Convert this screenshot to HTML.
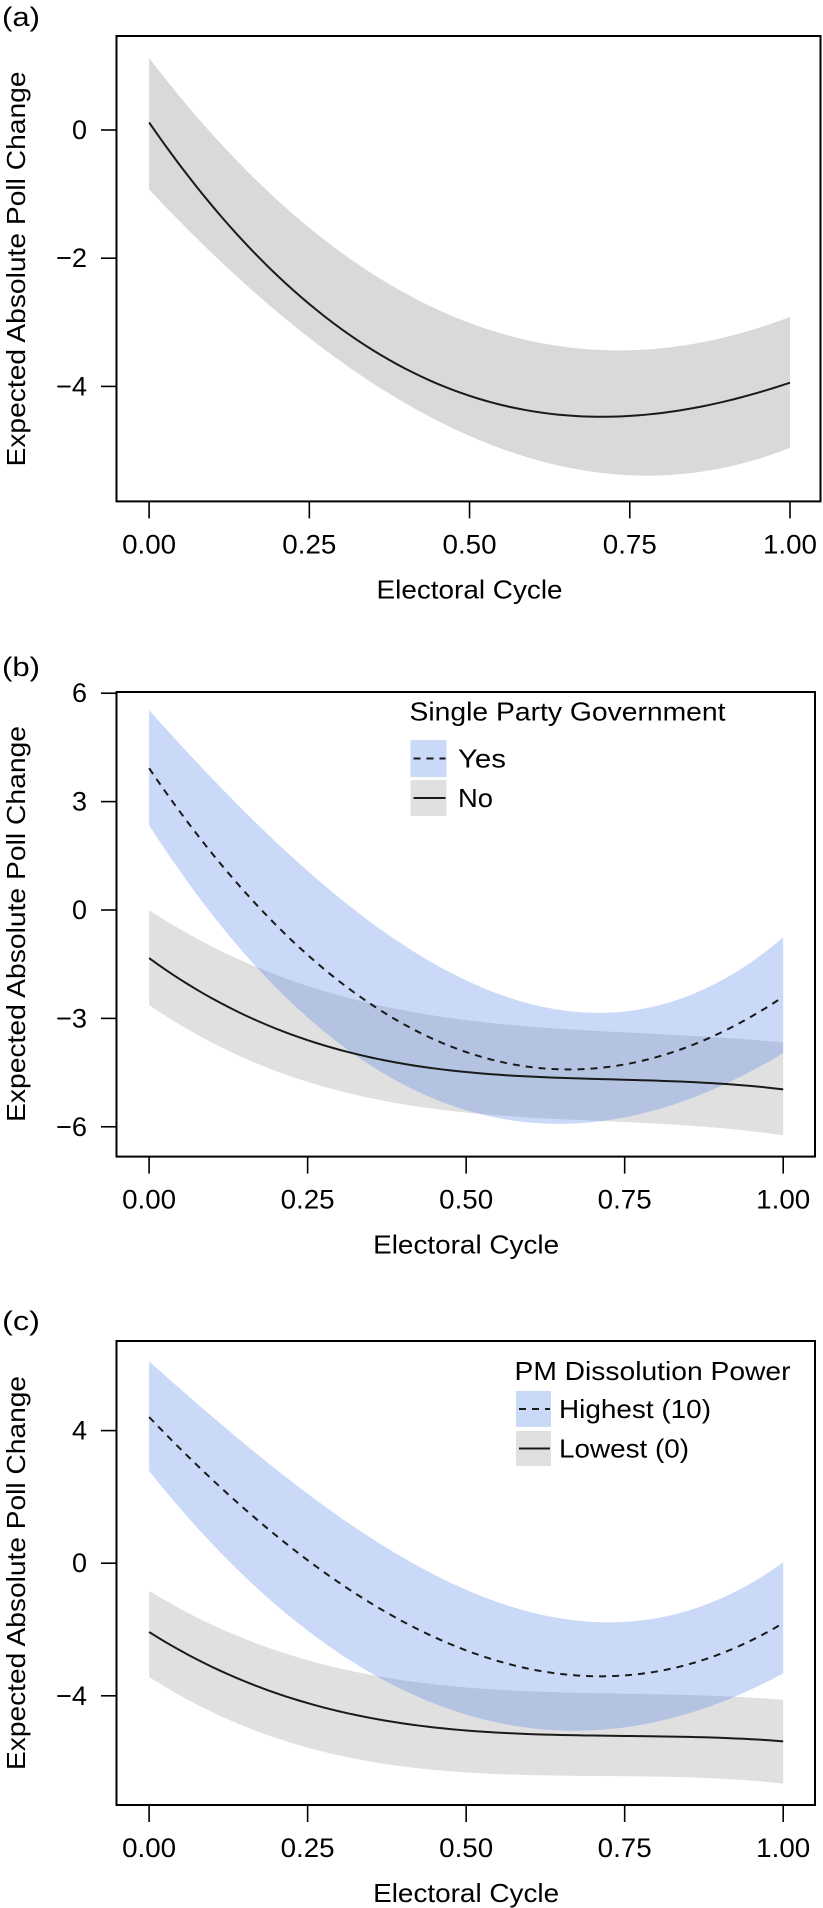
<!DOCTYPE html>
<html><head><meta charset="utf-8">
<style>
html,body{margin:0;padding:0;background:#fff;}
svg{display:block;font-family:"Liberation Sans",Arial,sans-serif;}
</style></head>
<body>
<svg id="fig" width="823" height="1908" viewBox="0 0 823 1908" xmlns="http://www.w3.org/2000/svg"></svg>
<script>
// shared x grid (electoral cycle)
const xGrid = [0, 0.125, 0.25, 0.375, 0.5, 0.625, 0.75, 0.875, 1];
const xTickVals = [0, 0.25, 0.5, 0.75, 1];
const xTickLabels = ["0.00", "0.25", "0.50", "0.75", "1.00"];

// panel (a)
const aTicks = [0, -2, -4];
const aMean = [0.11, -1.47, -2.73, -3.59, -4.16, -4.40, -4.47, -4.29, -3.94];
const aUpper = [1.13, -0.36, -1.55, -2.37, -3.01, -3.36, -3.45, -3.27, -2.92];
const aLower = [-0.91, -2.20, -3.27, -4.09, -4.73, -5.21, -5.44, -5.28, -4.96];

// panel (b)
const bTicks = [6, 3, 0, -3, -6];
const bYesMean = [3.87, 1.13, -1.25, -2.94, -3.96, -4.39, -4.25, -3.57, -2.43];
const bYesUpper = [5.46, 3.28, 1.13, -0.68, -2.04, -2.77, -2.77, -2.04, -0.85];
const bYesLower = [2.24, -0.45, -3.06, -4.64, -5.55, -5.94, -5.72, -4.98, -4.02];
const bNoMean = [-1.34, -2.66, -3.62, -4.19, -4.47, -4.62, -4.70, -4.79, -4.96];
const bNoUpper = [-0.03, -1.19, -2.09, -2.72, -3.06, -3.26, -3.37, -3.49, -3.68];
const bNoLower = [-2.60, -3.96, -4.75, -5.26, -5.60, -5.77, -5.89, -6.00, -6.23];

// panel (c)
const cTicks = [4, 0, -4];
const cHighMean = [4.40, 2.14, -0.02, -1.47, -2.61, -3.22, -3.40, -2.98, -1.77];
const cHighUpper = [6.04, 4.07, 2.14, 0.46, -0.87, -1.65, -1.77, -1.11, -0.06];
const cHighLower = [2.72, 0.22, -2.07, -3.64, -4.60, -4.96, -4.96, -4.36, -3.34];
const cLowMean = [-2.11, -3.28, -4.24, -4.78, -5.06, -5.17, -5.20, -5.23, -5.39];
const cLowUpper = [-0.84, -2.07, -2.92, -3.46, -3.76, -3.88, -3.92, -4.00, -4.12];
const cLowLower = [-3.43, -4.72, -5.57, -6.05, -6.31, -6.41, -6.43, -6.47, -6.65];

const NS = "http://www.w3.org/2000/svg";
const fig = document.getElementById("fig");
function mk(tag, attrs, parent) {
  const e = document.createElementNS(NS, tag);
  for (const k in attrs) e.setAttribute(k, attrs[k]);
  (parent || fig).appendChild(e);
  return e;
}
// least-squares cubic fit through the read values -> smooth curve
function fitCubic(xs, ys) {
  const n = 4, A = [], b = [];
  for (let i = 0; i < n; i++) { A.push(new Array(n).fill(0)); b.push(0); }
  xs.forEach((x, k) => {
    for (let i = 0; i < n; i++) {
      b[i] += ys[k] * Math.pow(x, i);
      for (let j = 0; j < n; j++) A[i][j] += Math.pow(x, i + j);
    }
  });
  for (let i = 0; i < n; i++) {
    let p = i;
    for (let r = i + 1; r < n; r++) if (Math.abs(A[r][i]) > Math.abs(A[p][i])) p = r;
    [A[i], A[p]] = [A[p], A[i]]; [b[i], b[p]] = [b[p], b[i]];
    for (let r = i + 1; r < n; r++) {
      const f = A[r][i] / A[i][i];
      for (let c = i; c < n; c++) A[r][c] -= f * A[i][c];
      b[r] -= f * b[i];
    }
  }
  const co = new Array(n).fill(0);
  for (let i = n - 1; i >= 0; i--) {
    let s = b[i];
    for (let c = i + 1; c < n; c++) s -= A[i][c] * co[c];
    co[i] = s / A[i][i];
  }
  return x => co[0] + co[1] * x + co[2] * x * x + co[3] * x * x * x;
}
function curvePts(sx, sy, vals) {
  const f = fitCubic(xGrid, vals), pts = [];
  for (let i = 0; i <= 80; i++) { const x = i / 80; pts.push([sx(x), sy(f(x))]); }
  return pts;
}
function poly(pts) { return pts.map((p, i) => (i ? "L" : "M") + p[0].toFixed(2) + "," + p[1].toFixed(2)).join(""); }
function txt(parent, x, y, s, size, anchor, len) {
  const t = mk("text", {x: x, y: y, "font-size": size, "text-anchor": anchor || "start", "dominant-baseline": "central", fill: "#000"}, parent);
  if (len) { t.setAttribute("textLength", len); t.setAttribute("lengthAdjust", "spacingAndGlyphs"); }
  t.textContent = s;
  return t;
}

function panel(cfg) {
  const g = mk("g", {});
  
  
  const sx = v => cfg.x0 + v * (cfg.x1 - cfg.x0);
  const sy = v => cfg.yRef + (cfg.vRef - v) * cfg.ppu;
  cfg.series.forEach(s => {
    const top = curvePts(sx, sy, s.up), bot = curvePts(sx, sy, s.lo).reverse();
    const band = mk("path", {d: poly(top.concat(bot)) + "Z", fill: s.fill, "fill-opacity": s.op, stroke: "none"}, g);
    
    
  });
  cfg.series.forEach(s => {
    const ln = mk("path", {d: poly(curvePts(sx, sy, s.mean)), fill: "none", stroke: "#1a1a1a", "stroke-width": 2, "stroke-dasharray": s.dash || "none"}, g);
    
    
  });
  const box = mk("rect", {x: cfg.bx0, y: cfg.by0, width: cfg.bx1 - cfg.bx0, height: cfg.by1 - cfg.by0, fill: "none", stroke: "#000", "stroke-width": 2}, g);
  
  
  const xa = mk("g", {}, g);
  
  
  xTickVals.forEach((v, i) => {
    mk("line", {x1: sx(v), x2: sx(v), y1: cfg.by1, y2: cfg.by1 + 17, stroke: "#000", "stroke-width": 1.6}, xa);
    const t = txt(xa, sx(v), cfg.by1 + 43, xTickLabels[i], 27, "middle", 54);
    
    
  });
  const xt = txt(g, (sx(0) + sx(1)) / 2, cfg.by1 + 88, "Electoral Cycle", 26, "middle", 186);
  
  
  const ya = mk("g", {}, g);
  
  
  cfg.ticks.forEach(v => {
    mk("line", {x1: 101, x2: cfg.bx0, y1: sy(v), y2: sy(v), stroke: "#000", "stroke-width": 1.6}, ya);
    const lab = v < 0 ? "\u2212" + Math.abs(v) : String(v);
    const t = txt(ya, 87, sy(v), lab, 27, "end", v < 0 ? 31 : 15);
    
    
  });
  const yt = mk("text", {x: 0, y: 0, "font-size": 26, "text-anchor": "middle", "dominant-baseline": "central", transform: "translate(16," + cfg.ytY + ") rotate(-90)", textLength: cfg.ytLen, lengthAdjust: "spacingAndGlyphs"}, g);
  yt.textContent = "Expected Absolute Poll Change";
  
  
  const pl = txt(g, 2, cfg.letterY, cfg.letter, 27, "start", 38);
  
  
  if (cfg.legend) {
    const L = cfg.legend;
    const lg = mk("g", {}, g);
    
    
    const lt = txt(lg, L.tx, L.ty, L.title, 26, "start", L.tlen);
    
    
    L.entries.forEach(e => {
      const en = mk("g", {}, lg);
      
      
      mk("rect", {x: L.bx, y: e.y0, width: L.bw, height: e.y1 - e.y0, fill: e.fill, "fill-opacity": e.op}, en);
      mk("line", {x1: L.bx + 3, x2: L.bx + L.bw - 1, y1: (e.y0 + e.y1) / 2, y2: (e.y0 + e.y1) / 2, stroke: "#1a1a1a", "stroke-width": 2, "stroke-dasharray": e.dash || "none"}, en);
      txt(en, L.lx, (e.y0 + e.y1) / 2, e.label, 26, "start", e.len);
    });
  }
}

const BLUE = "rgb(75,130,230)", GRAY = "#e0e0e0";

panel({name: "panel-a", letter: "(a)", letterY: 17,
  x0: 149.1, x1: 790, bx0: 116.5, bx1: 820.5, by0: 36, by1: 501.4,
  yRef: 130, vRef: 0, ppu: 64.1, ticks: aTicks, ytY: 269, ytLen: 395,
  series: [{key: "overall", mean: aMean, up: aUpper, lo: aLower, fill: "#d9d9d9", op: 1}]
});

panel({name: "panel-b", letter: "(b)", letterY: 667,
  x0: 149.1, x1: 783.2, bx0: 116.5, bx1: 815, by0: 692, by1: 1156.6,
  yRef: 910, vRef: 0, ppu: 36.13, ticks: bTicks, ytY: 924, ytLen: 396,
  series: [
    {key: "no-single-party", mean: bNoMean, up: bNoUpper, lo: bNoLower, fill: GRAY, op: 1},
    {key: "yes-single-party", mean: bYesMean, up: bYesUpper, lo: bYesLower, fill: BLUE, op: 0.3, dash: "7,6"}],
  legend: {title: "Single Party Government", tx: 409.5, ty: 711.6, tlen: 316, bx: 410.5, bw: 36, lx: 458,
    entries: [
      {y0: 740, y1: 777, fill: BLUE, op: 0.3, dash: "7,6", label: "Yes", len: 48},
      {y0: 780, y1: 816, fill: GRAY, op: 1, label: "No", len: 35}]}
});

panel({name: "panel-c", letter: "(c)", letterY: 1321,
  x0: 149.1, x1: 783.2, bx0: 116.5, bx1: 815, by0: 1341, by1: 1805,
  yRef: 1563.2, vRef: 0, ppu: 33.15, ticks: cTicks, ytY: 1573, ytLen: 394,
  series: [
    {key: "lowest-dissolution", mean: cLowMean, up: cLowUpper, lo: cLowLower, fill: GRAY, op: 1},
    {key: "highest-dissolution", mean: cHighMean, up: cHighUpper, lo: cHighLower, fill: BLUE, op: 0.3, dash: "7,6"}],
  legend: {title: "PM Dissolution Power", tx: 514.5, ty: 1371, tlen: 276, bx: 516, bw: 35, lx: 559,
    entries: [
      {y0: 1391, y1: 1427, fill: BLUE, op: 0.3, dash: "7,6", label: "Highest (10)", len: 152},
      {y0: 1431, y1: 1466, fill: GRAY, op: 1, label: "Lowest (0)", len: 130}]}
});
</script>
</body></html>
